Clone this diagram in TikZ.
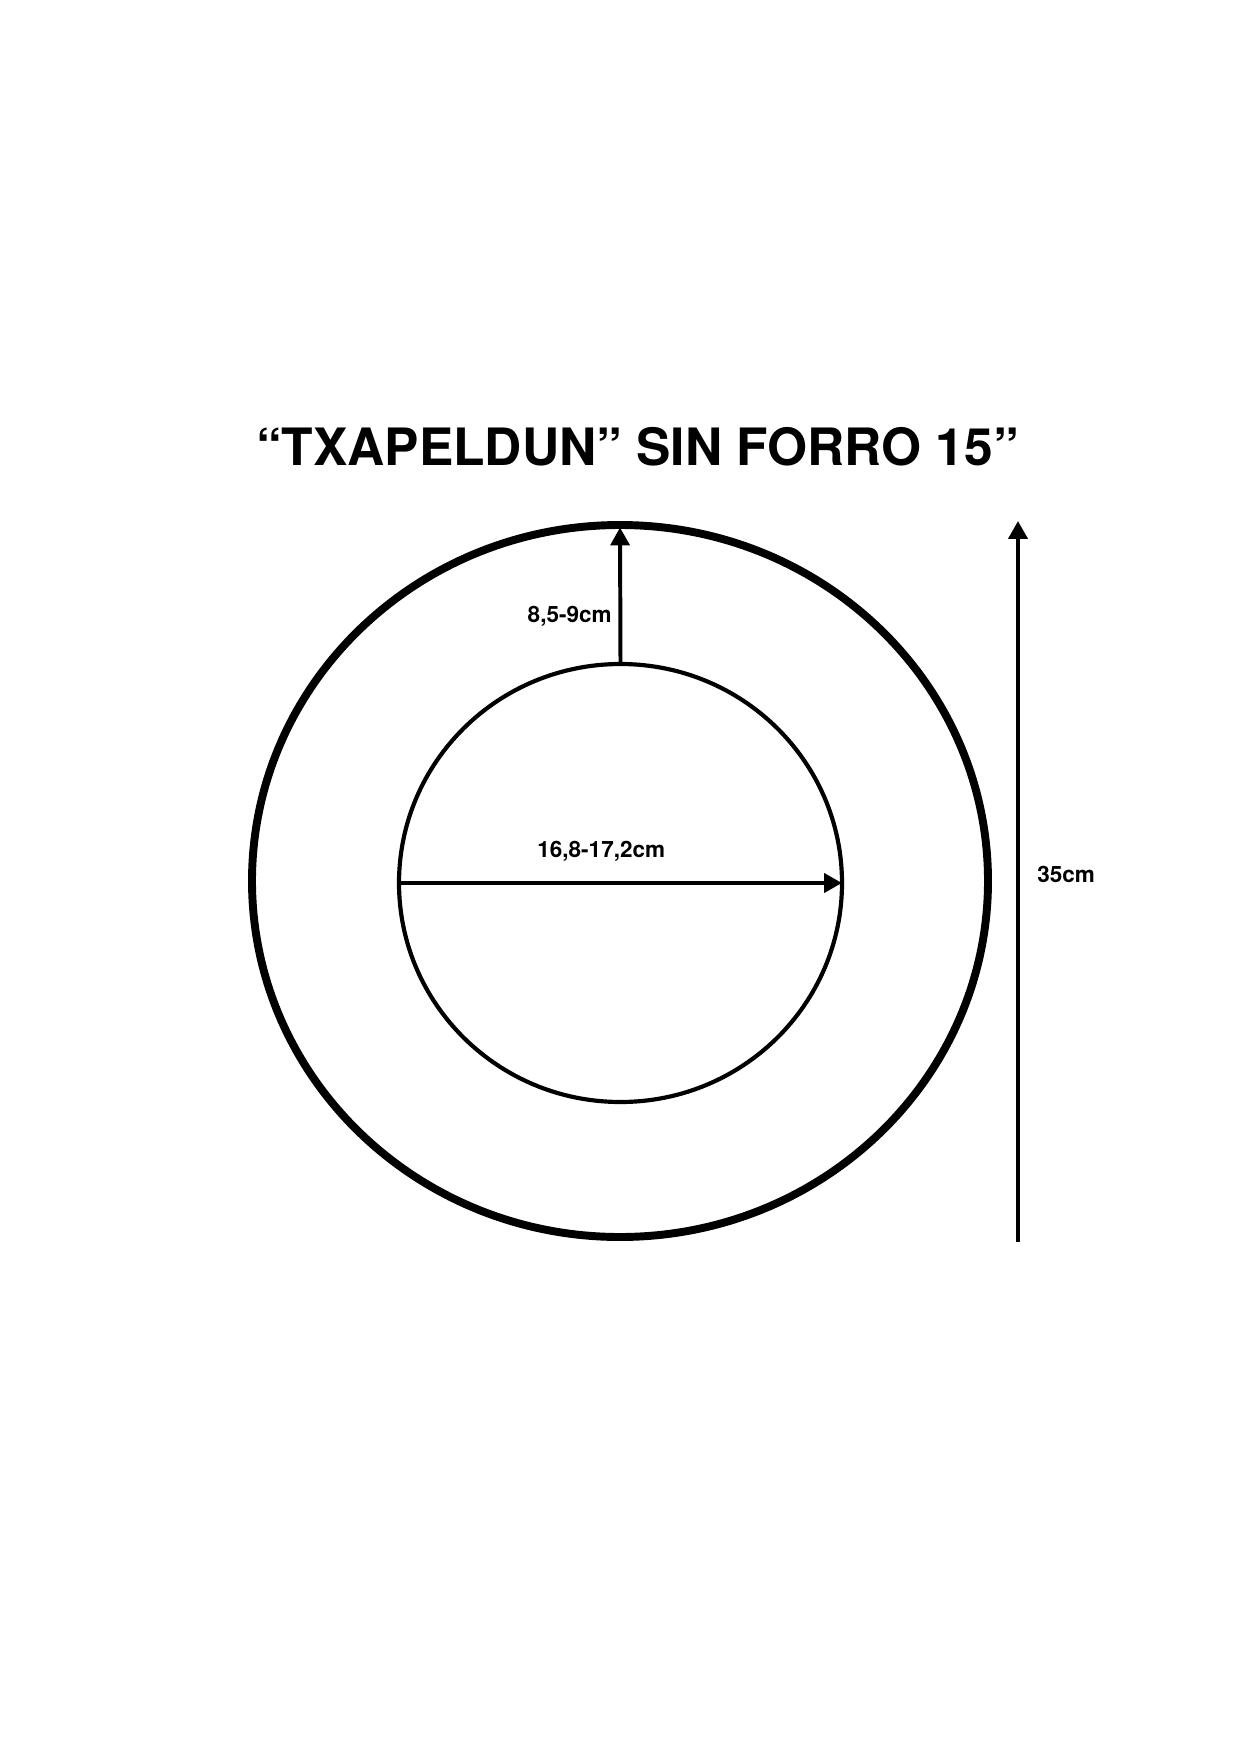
\documentclass[tikz,border=0pt]{standalone}
\usepackage{fontspec}
\setmainfont{TeX Gyre Heros}
\usetikzlibrary{arrows.meta,shapes.geometric}
\def\u{0.4797pt}
\tikzset{
  ring/.style={draw=black, ellipse, inner sep=0pt, outer sep=0pt},
  dimarrow/.style={line width=1.9pt, -{Triangle[length=8.6pt,width=9.1pt]}},
  dimlabel/.style={inner sep=0pt, font=\fontsize{10.8}{13}\selectfont\bfseries},
}
\begin{document}
\begin{tikzpicture}[x=0.4797pt, y=-0.4797pt]
\useasboundingbox[fill=white] (0,0) rectangle (1241,1754);
\node[anchor=base, inner sep=0pt, font=\fontsize{24.7}{30}\selectfont\bfseries] (title) at (637.5,465) {“TXAPELDUN” SIN FORRO 15”};
\node[ring, line width=3.8pt, minimum width={736*\u}, minimum height={712*\u}] (outer) at (620,881) {};
\node[ring, line width=2pt, minimum width={443*\u}, minimum height={438*\u}] (inner) at (620.5,883) {};
\draw[dimarrow, shorten >=1.2pt] (inner.north) -- (outer.north);
\draw[dimarrow] (inner.west) -- (inner.east);
\coordinate (hb) at (1018,1242);
\coordinate (ht) at (1018,521);
\draw[dimarrow] (hb) -- (ht);
\node[dimlabel, anchor=base east] (lr) at (612,622) {8,5-9cm};
\node[dimlabel, anchor=base west] (ld) at (537,857) {16,8-17,2cm};
\node[dimlabel, anchor=base west] (lh) at (1037,882) {35cm};
\end{tikzpicture}
\end{document}
